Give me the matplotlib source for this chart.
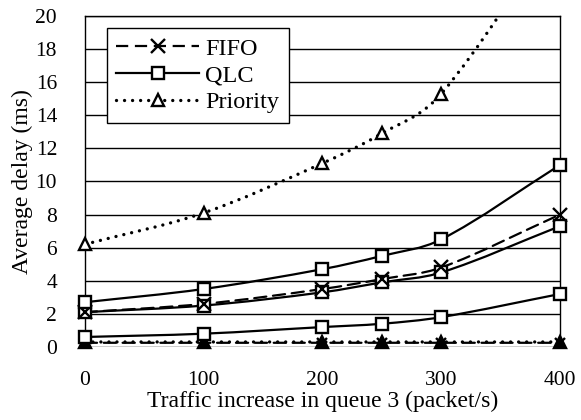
import numpy as np
import matplotlib
matplotlib.use("Agg")
import matplotlib.pyplot as plt
from matplotlib.path import Path
from matplotlib.patches import PathPatch
from matplotlib.lines import Line2D

plt.rcParams['font.family'] = ['Liberation Serif', 'DejaVu Serif']

traffic = [0, 100, 200, 250, 300, 400]

fifo = [2.1, 2.6, 3.5, 4.1, 4.8, 8.0]
fifo_low = [0.25, 0.25, 0.25, 0.25, 0.25, 0.25]
qlc_high = [2.7, 3.5, 4.7, 5.5, 6.5, 11.0]
qlc_mid = [2.1, 2.5, 3.3, 3.9, 4.5, 7.3]
qlc_low = [0.6, 0.8, 1.2, 1.4, 1.8, 3.2]
prio_high = [6.2, 8.1, 11.1, 12.9, 15.3, 25.5]
prio_low = [0.3, 0.3, 0.3, 0.3, 0.3, 0.3]

x_ticks = [0, 100, 200, 300, 400]
y_ticks = list(range(0, 21, 2))


def smooth_path(xs, ys):
    # cubic Hermite curve through the points, slopes from neighbouring points
    x = np.asarray(xs, float)
    y = np.asarray(ys, float)
    n = len(x)
    m = np.empty(n)
    m[0] = (y[1] - y[0]) / (x[1] - x[0])
    m[-1] = (y[-1] - y[-2]) / (x[-1] - x[-2])
    for i in range(1, n - 1):
        m[i] = (y[i + 1] - y[i - 1]) / (x[i + 1] - x[i - 1])
    verts = [(x[0], y[0])]
    codes = [Path.MOVETO]
    for i in range(n - 1):
        h = (x[i + 1] - x[i]) / 3.0
        verts += [(x[i] + h, y[i] + m[i] * h),
                  (x[i + 1] - h, y[i + 1] - m[i + 1] * h),
                  (x[i + 1], y[i + 1])]
        codes += [Path.CURVE4] * 3
    return Path(verts, codes)


def draw_series(ax, ys, dashes, marker, mfc='white', ms=9, lw=1.6):
    patch = PathPatch(smooth_path(traffic, ys), fill=False, ec='black',
                      lw=lw, capstyle='round')
    patch.set_linestyle(dashes)
    ax.add_patch(patch)
    ax.plot(traffic, ys, ls='none', marker=marker, ms=ms, mfc=mfc,
            mec='black', mew=1.7, clip_on=False, zorder=4)


fig = plt.figure(figsize=(5.81, 4.20), dpi=100)
ax = fig.add_axes([0.146, 0.174, 0.818, 0.788])

solid = '-'
dotted = (0, (0.01, 2.4))
dashed = (0, (5.5, 3))

draw_series(ax, prio_high, dotted, '^', ms=8.5, lw=2.4)
draw_series(ax, prio_low, dotted, '^', mfc='black', ms=8.5, lw=2.4)
draw_series(ax, fifo_low, dashed, 'x', ms=7)
draw_series(ax, qlc_low, solid, 's')
draw_series(ax, qlc_mid, solid, 's')
draw_series(ax, fifo, dashed, 'x', ms=10)
draw_series(ax, qlc_high, solid, 's')

ax.set_xlim(0, 400)
ax.set_ylim(0, 20)
ax.set_xticks(x_ticks)
ax.set_yticks(y_ticks)
ax.yaxis.grid(True, color='black', lw=1.0)
ax.set_axisbelow(True)
ax.tick_params(length=0, labelsize=15.5)
ax.tick_params(axis='x', pad=17)
ax.tick_params(axis='y', pad=20)
for s in ['top', 'right', 'left']:
    ax.spines[s].set_linewidth(1.0)
ax.spines['bottom'].set_visible(False)

ax.set_xlabel('Traffic increase in queue 3 (packet/s)', fontsize=17, labelpad=1)
ax.set_ylabel('Average delay (ms)', fontsize=17, labelpad=2)

handles = [
    Line2D([], [], color='black', lw=1.6, ls=dashed, marker='x', ms=10,
           mec='black', mew=1.7),
    Line2D([], [], color='black', lw=1.6, ls=solid, marker='s', ms=9,
           mfc='white', mec='black', mew=1.7),
    Line2D([], [], color='black', lw=2.4, ls=dotted, marker='^', ms=8.5,
           mfc='white', mec='black', mew=1.7, dash_capstyle='round'),
]
leg = ax.legend(handles, ['FIFO', 'QLC', 'Priority'], loc='upper left',
                bbox_to_anchor=(0.046, 0.964), borderaxespad=0,
                fontsize=17.5, frameon=True, fancybox=False, handlelength=3.4,
                handletextpad=0.25, labelspacing=0.2, borderpad=0.4)
leg.get_frame().set_edgecolor('black')
leg.get_frame().set_linewidth(1.0)
leg.get_frame().set_alpha(1)

fig.savefig('out.png', dpi=100)
